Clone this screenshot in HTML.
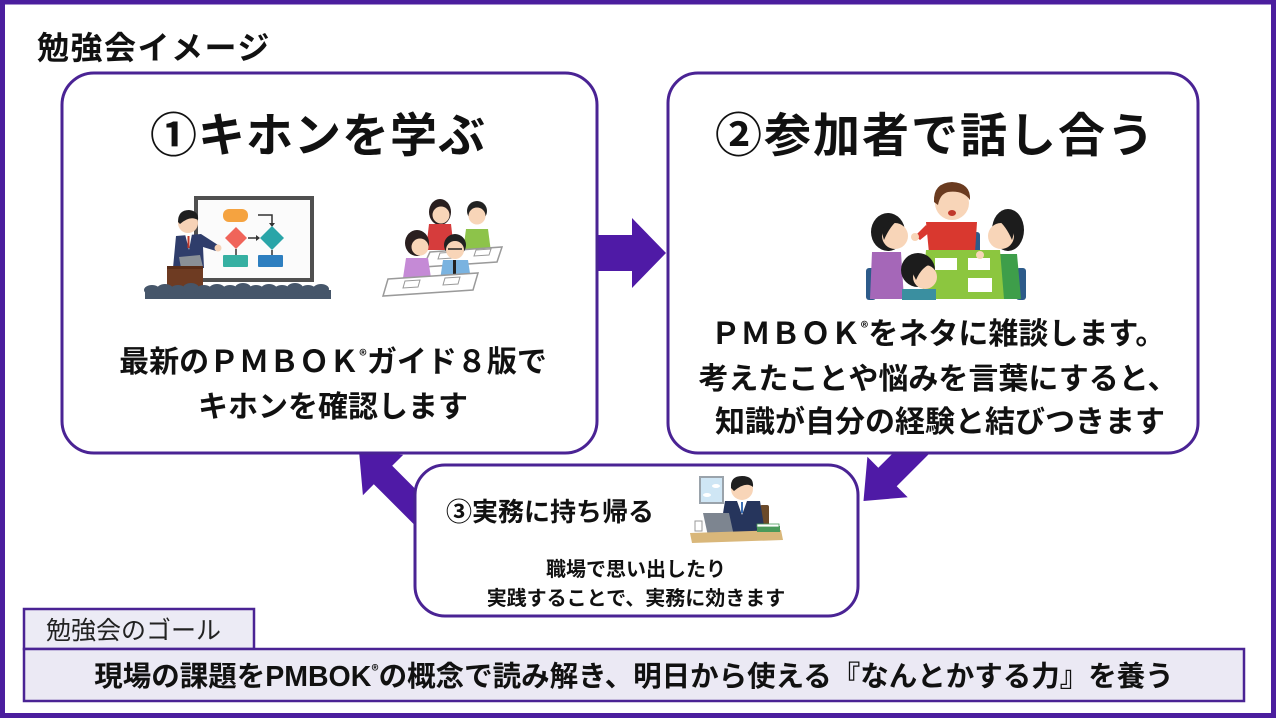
<!DOCTYPE html>
<html><head><meta charset="utf-8">
<style>
html,body{margin:0;padding:0;}
body{width:1276px;height:718px;position:relative;overflow:hidden;background:#fff;font-family:"Liberation Sans","Noto Sans CJK JP",sans-serif;}
.t{position:absolute;white-space:nowrap;color:#111;font-weight:bold;line-height:1;font-family:"Noto Sans CJK JP","Liberation Sans",sans-serif;}
.c{text-align:center;}
sup{font-size:0.5em;vertical-align:0.75em;line-height:0;}
</style></head><body>
<svg width="1276" height="718" viewBox="0 0 1276 718" style="position:absolute;left:0;top:0">
  <rect x="2.5" y="2" width="1271" height="713.5" fill="none" stroke="#4b1e9e" stroke-width="5"/>

  <g fill="#4f1aa6">
    <polygon points="597,235 632,235 632,218 666,253 632,288 632,271 597,271"/>
    <polygon points="359,451 403.2,454.9 392.2,465.8 449.2,522.8 430.8,541.2 373.8,484.2 362.9,495.2"/>
    <polygon points="863.5,501 867.4,456.8 878.3,467.8 941.9,404.2 960.3,422.6 896.7,486.2 907.7,497.2"/>
  </g>

  <g fill="#fff" stroke="#4a2394" stroke-width="3">
    <rect x="62" y="73" width="535" height="380" rx="32" ry="32"/>
    <rect x="668" y="73" width="530" height="380" rx="30" ry="30"/>
    <rect x="415" y="465" width="443" height="151" rx="30" ry="30"/>
  </g>

  <rect x="24" y="609" width="230" height="40" fill="#ecebf5" stroke="#4a2394" stroke-width="2.5"/>
  <rect x="24" y="649" width="1220" height="52" fill="#ebe9f4" stroke="#4a2394" stroke-width="2.5"/>

  <!-- Teacher -->
  <rect x="196" y="198" width="116" height="82" fill="#fbfbfb" stroke="#505050" stroke-width="4"/>
  <rect x="223" y="209" width="25" height="13" rx="6" fill="#f5a340"/>
  <polyline points="258,215 272,215 272,224" fill="none" stroke="#333" stroke-width="1.5"/>
  <polygon points="269,223 275,223 272,227" fill="#333"/>
  <polygon points="236,227 247,238 236,249 225,238" fill="#f0645a"/>
  <line x1="248" y1="238" x2="257" y2="238" stroke="#333" stroke-width="1.5"/>
  <polygon points="256,235 260,238 256,241" fill="#333"/>
  <polygon points="272,226 284,238 272,250 260,238" fill="#2aa5a8"/>
  <line x1="236" y1="249" x2="236" y2="255" stroke="#333" stroke-width="1.5"/>
  <line x1="272" y1="250" x2="272" y2="255" stroke="#333" stroke-width="1.5"/>
  <rect x="223" y="255" width="25" height="12" rx="1" fill="#36b0a2"/>
  <rect x="258" y="255" width="25" height="12" rx="1" fill="#2e7fc0"/>
  <polygon points="176,236 201,234 218,245 216,251 203,247 204,268 173,268" fill="#2f3d6b"/>
  <circle cx="218" cy="248" r="3.5" fill="#f6d2b6"/>
  <polygon points="185,234 192,234 189,250" fill="#fff"/>
  <rect x="187.5" y="236" width="2" height="12" fill="#c0392b"/>
  <circle cx="188" cy="223" r="10" fill="#f6d2b6"/>
  <path d="M178,222 Q178,210 189,210 Q199,211 198,220 Q190,215 180,224 Z" fill="#1f1f1f"/>
  <polygon points="179,257 200,255 203,267 181,268" fill="#8a9097"/>
  <rect x="167" y="266" width="36" height="26" fill="#6e3b22"/>
  <rect x="167" y="266" width="36" height="3" fill="#5a2d18"/>
  <g fill="#46566a">
    <rect x="145" y="290" width="186" height="9"/>
    <ellipse cx="152" cy="290" rx="8" ry="5"/><ellipse cx="165" cy="289" rx="8" ry="5"/>
    <ellipse cx="178" cy="290" rx="8" ry="5"/><ellipse cx="191" cy="288" rx="8" ry="5"/>
    <ellipse cx="204" cy="290" rx="8" ry="5"/><ellipse cx="217" cy="289" rx="8" ry="5"/>
    <ellipse cx="230" cy="290" rx="8" ry="5"/><ellipse cx="243" cy="288" rx="8" ry="5"/>
    <ellipse cx="256" cy="290" rx="8" ry="5"/><ellipse cx="269" cy="289" rx="8" ry="5"/>
    <ellipse cx="282" cy="290" rx="8" ry="5"/><ellipse cx="295" cy="288" rx="8" ry="5"/>
    <ellipse cx="308" cy="290" rx="8" ry="5"/><ellipse cx="321" cy="289" rx="8" ry="5"/>
  </g>

  <!-- Students -->
  <ellipse cx="440" cy="212" rx="11" ry="13" fill="#2a1f1f"/>
  <circle cx="441" cy="215" r="8.5" fill="#f8d5b8"/>
  <polygon points="429,224 451,224 454,250 426,250" fill="#d63c3c"/>
  <circle cx="477" cy="211" r="10" fill="#222"/>
  <circle cx="477" cy="216" r="8.5" fill="#f8d5b8"/>
  <polygon points="466,229 488,229 491,252 463,252" fill="#8dc34a"/>
  <polygon points="430,252 502,247 497,262 423,267" fill="#fff" stroke="#9a9a9a" stroke-width="1.5"/>
  <polygon points="440,253 455,252 453,258 438,259" fill="#fff" stroke="#999" stroke-width="1"/>
  <polygon points="476,250 491,249 489,255 474,256" fill="#fff" stroke="#999" stroke-width="1"/>
  <ellipse cx="417" cy="243" rx="12" ry="13" fill="#2a1f1f"/>
  <circle cx="420" cy="247" r="8.5" fill="#f8d5b8"/>
  <polygon points="406,258 428,258 431,278 403,278" fill="#c58ad6"/>
  <circle cx="455" cy="245" r="11" fill="#222"/>
  <circle cx="455" cy="250" r="9" fill="#f8d5b8"/>
  <line x1="448" y1="249" x2="462" y2="249" stroke="#222" stroke-width="1.5"/>
  <polygon points="443,260 468,260 471,280 440,280" fill="#7ab3e0"/>
  <rect x="453" y="260" width="3" height="18" fill="#222"/>
  <polygon points="388,279 478,273 473,290 383,296" fill="#fff" stroke="#9a9a9a" stroke-width="1.5"/>
  <polygon points="405,281 420,280 418,287 403,288" fill="#fff" stroke="#999" stroke-width="1"/>
  <polygon points="445,278 460,277 458,284 443,285" fill="#fff" stroke="#999" stroke-width="1"/>

  <!-- Discussion -->
  <rect x="866" y="268" width="10" height="32" rx="3" fill="#2d5b8a"/>
  <rect x="1016" y="268" width="10" height="32" rx="3" fill="#2d5b8a"/>
  <rect x="970" y="232" width="10" height="22" rx="3" fill="#2d5b8a"/>
  <polygon points="926,222 977,222 975,253 929,253" fill="#d9382f"/>
  <polygon points="926,225 915,236 920,240 930,232" fill="#d9382f"/>
  <circle cx="915" cy="237" r="4" fill="#f8d5b8"/>
  <circle cx="952" cy="203" r="17" fill="#f8d5b8"/>
  <path d="M934,202 Q933,183 952,182 Q971,183 970,200 Q963,190 948,192 Q940,194 938,205 Z" fill="#6a3b20"/>
  <ellipse cx="952" cy="213" rx="4" ry="3" fill="#c0392b"/>
  <ellipse cx="888" cy="232" rx="17" ry="19" fill="#1c1c1c"/>
  <circle cx="895" cy="236" r="13" fill="#f8d5b8"/>
  <path d="M882,233 Q884,218 898,220 Q890,226 884,240 Z" fill="#1c1c1c"/>
  <polygon points="872,252 901,252 904,299 870,299" fill="#a567b8"/>
  <ellipse cx="1008" cy="230" rx="16" ry="21" fill="#1c1c1c"/>
  <circle cx="1001" cy="236" r="13" fill="#f8d5b8"/>
  <path d="M1014,233 Q1012,218 998,220 Q1006,226 1012,240 Z" fill="#1c1c1c"/>
  <polygon points="984,254 1017,254 1021,299 981,299" fill="#3e9e4a"/>
  <polygon points="926,250 1000,250 1004,299 922,299" fill="#8cc63f"/>
  <rect x="935" y="258" width="22" height="12" fill="#fff"/>
  <rect x="968" y="258" width="22" height="12" fill="#fff"/>
  <rect x="968" y="278" width="24" height="14" fill="#fff"/>
  <circle cx="980" cy="255" r="4" fill="#f8d5b8"/>
  <rect x="902" y="289" width="34" height="11" fill="#3a8fa0"/>
  <circle cx="918" cy="270" r="17" fill="#1c1c1c"/>
  <circle cx="925" cy="277" r="12" fill="#f8d5b8"/>
  <path d="M912,272 Q916,258 932,264 Q922,266 916,280 Z" fill="#1c1c1c"/>

  <!-- Office worker -->
  <rect x="700" y="477" width="23" height="26" fill="#cfe6f5" stroke="#9aa3ab" stroke-width="2"/>
  <ellipse cx="707" cy="495" rx="4" ry="2" fill="#fff"/>
  <ellipse cx="716" cy="486" rx="4" ry="2" fill="#fff"/>
  <rect x="760" y="505" width="9" height="26" rx="2" fill="#6b4a2a"/>
  <polygon points="725,501 760,501 765,532 720,532" fill="#26355c"/>
  <polygon points="737,501 747,501 742,515" fill="#fff"/>
  <rect x="741" y="502" width="2" height="11" fill="#3b6fb5"/>
  <circle cx="742" cy="489" r="11" fill="#f8d5b8"/>
  <path d="M731,488 Q730,476 742,476 Q754,476 753,487 Q746,481 734,491 Z" fill="#1f1f1f"/>
  <polygon points="703,513 729,513 734,536 708,536" fill="#7d8590"/>
  <polygon points="690,533 781,530 783,540 692,543" fill="#d9b77a"/>
  <rect x="757" y="526" width="23" height="6" fill="#4a9a5a"/>
  <rect x="757" y="524" width="22" height="3" fill="#fff" stroke="#4a9a5a" stroke-width="0.8"/>
  <rect x="695" y="521" width="7" height="10" fill="#fff" stroke="#999" stroke-width="1"/>
</svg>

<div class="t" style="left:37px;top:30px;font-size:32px;letter-spacing:1.5px;">勉強会イメージ</div>

<div class="t" style="left:150px;top:108px;font-size:47px;letter-spacing:1px;">①キホンを学ぶ</div>
<div class="t" style="left:715px;top:108px;font-size:47px;letter-spacing:2px;">②参加者で話し合う</div>

<div class="t c" style="left:83px;width:500px;top:344px;font-size:30px;">最新のＰＭＢＯＫ<sup>®</sup>ガイド８版で</div>
<div class="t c" style="left:83px;width:500px;top:389px;font-size:30px;">キホンを確認します</div>

<div class="t c" style="left:688px;width:500px;top:316px;font-size:30px;">ＰＭＢＯＫ<sup>®</sup>をネタに雑談します。</div>
<div class="t c" style="left:688px;width:500px;top:361px;font-size:30px;">考えたことや悩みを言葉にすると、</div>
<div class="t c" style="left:690px;width:500px;top:404px;font-size:30px;">知識が自分の経験と結びつきます</div>

<div class="t" style="left:446px;top:498px;font-size:26px;">③実務に持ち帰る</div>
<div class="t c" style="left:436px;width:400px;top:558px;font-size:20px;">職場で思い出したり</div>
<div class="t c" style="left:436px;width:400px;top:587px;font-size:20px;">実践することで、実務に効きます</div>

<div class="t" style="left:46px;top:617px;font-size:25px;font-weight:normal;color:#222;">勉強会のゴール</div>
<div class="t c" style="left:24px;width:1220px;top:661px;font-size:28.5px;">現場の課題を<span style="font-family:'Liberation Sans',sans-serif;">PMBOK</span><sup>®</sup>の概念で読み解き、明日から使える『なんとかする力』を養う</div>
</body></html>
